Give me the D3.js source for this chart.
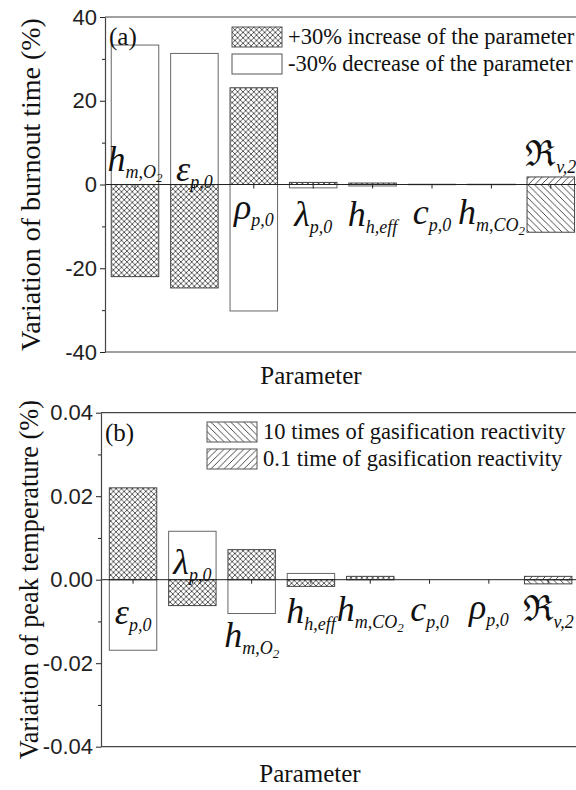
<!DOCTYPE html>
<html>
<head>
<meta charset="utf-8">
<script src="https://cdn.jsdelivr.net/npm/d3@7"></script>
<style>
  body { margin: 0; background: #fff; }
  svg { display: block; }
</style>
</head>
<body>
<svg id="chart" width="576" height="790"></svg>
<script>
// ---- Panel (a): variation of burnout time (%) ----
const burnoutParams   = ["hmO2", "epsP0", "rhoP0", "lambdaP0", "hHeff", "cP0", "hmCO2", "Rv2"];
const burnoutIncrease = [-22.0, -24.7, 23.1, 0.5, 0.35, 0.05, 0.05, 0];     // +30% of parameter
const burnoutDecrease = [33.3, 31.3, -30.2, -0.8, -0.35, -0.05, -0.05, 0];  // -30% of parameter
const burnoutReact10  = [0, 0, 0, 0, 0, 0, 0, -11.4];                       // 10x gasification reactivity
const burnoutReact01  = [0, 0, 0, 0, 0, 0, 0, 1.8];                         // 0.1x gasification reactivity
const burnoutTicks    = [-40, -20, 0, 20, 40];
const burnoutMinor    = [-30, -10, 10, 30];

// ---- Panel (b): variation of peak temperature (%) ----
const peakParams   = ["epsP0", "lambdaP0", "hmO2", "hHeff", "hmCO2", "cP0", "rhoP0", "Rv2"];
const peakIncrease = [0.0220, -0.0062, 0.0072, -0.0016, 0.0008, 0, 0, 0];
const peakDecrease = [-0.0169, 0.0116, -0.0081, 0.0015, 0.0002, 0, 0, 0];
const peakReact10  = [0, 0, 0, 0, 0, 0, 0, -0.0010];
const peakReact01  = [0, 0, 0, 0, 0, 0, 0, 0.0008];
const peakTicks    = [-0.04, -0.02, 0, 0.02, 0.04];
const peakMinor    = [-0.03, -0.01, 0.01, 0.03];

// Symbol of each parameter: [text, level] with level 1 = main, 2 = subscript, 3 = sub-subscript
const symbols = {
  hmO2:     [["h", 1], ["m,O", 2], ["2", 3]],
  epsP0:    [["\u03B5", 1], ["p,0", 2]],
  rhoP0:    [["\u03C1", 1], ["p,0", 2]],
  lambdaP0: [["\u03BB", 1], ["p,0", 2]],
  hHeff:    [["h", 1], ["h,eff", 2]],
  cP0:      [["c", 1], ["p,0", 2]],
  hmCO2:    [["h", 1], ["m,CO", 2], ["2", 3]],
  Rv2:      [["\u211C", 1], ["v,2", 2]]
};

const W = 576, H = 790;
const serif = "Liberation Serif, Times New Roman, serif";
const sans = "Liberation Sans, Arial, sans-serif";
const ink = "#222";

const svg = d3.select("#chart");
svg.append("rect").attr("width", W).attr("height", H).attr("fill", "#fff");

// hatch patterns
const defs = svg.append("defs");
function hatch(id, size, d, w) {
  const p = defs.append("pattern").attr("id", id)
    .attr("patternUnits", "userSpaceOnUse").attr("width", size).attr("height", size);
  p.append("rect").attr("width", size).attr("height", size).attr("fill", "#fff");
  p.append("path").attr("d", d).attr("stroke", "#333").attr("stroke-width", w).attr("fill", "none");
}
hatch("cross", 5.4, "M0,0L5.4,5.4M5.4,0L0,5.4", 0.8);
hatch("back", 6.6, "M0,0L6.6,6.6M-1,5.6L1,7.6M5.6,-1L7.6,1", 0.9);
hatch("fwd", 6.6, "M0,6.6L6.6,0M-1,1L1,-1M5.6,7.6L7.6,5.6", 0.9);

const fills = { inc: "url(#cross)", dec: "#fff", r10: "url(#back)", r01: "url(#fwd)" };

function drawLabel(g, x, y, parts, sz) {
  const t = g.append("text").attr("x", x).attr("y", y)
    .attr("text-anchor", "middle").style("font-family", serif).attr("fill", "#111");
  const shift = { 1: 0, 2: sz.d2, 3: sz.d3 };
  const size = { 1: sz.m, 2: sz.s, 3: sz.ss };
  let prev = 0;
  parts.forEach(([txt, lvl]) => {
    const sp = t.append("tspan").attr("font-size", size[lvl]).attr("dy", shift[lvl] - prev).text(txt);
    if (txt !== "\u211C") sp.attr("font-style", "italic");
    prev = shift[lvl];
  });
}

function panel(cfg) {
  const g = svg.append("g");
  const x = d3.scaleBand().domain(cfg.params).range(cfg.band).paddingInner(0.2).paddingOuter(0.1);
  const y = d3.scaleLinear().domain([cfg.ticks[0], cfg.ticks[cfg.ticks.length - 1]]).range(cfg.yRange);

  // bars: each series drawn from zero to its value
  const series = [
    { vals: cfg.dec, fill: fills.dec, stroke: "#666" },
    { vals: cfg.inc, fill: fills.inc, stroke: "#444" },
    { vals: cfg.r10, fill: fills.r10, stroke: "#444" },
    { vals: cfg.r01, fill: fills.r01, stroke: "#444" }
  ];
  series.forEach(s => {
    g.append("g").selectAll("rect")
      .data(cfg.params.map((p, i) => ({ p, v: s.vals[i] })).filter(d => d.v !== 0))
      .join("rect")
      .attr("x", d => x(d.p))
      .attr("width", x.bandwidth())
      .attr("y", d => y(Math.max(0, d.v)))
      .attr("height", d => Math.abs(y(d.v) - y(0)))
      .attr("fill", s.fill)
      .attr("stroke", s.stroke)
      .attr("stroke-width", 1);
  });

  // frame
  const xr = cfg.axisX, top = y(cfg.ticks[cfg.ticks.length - 1]), bot = y(cfg.ticks[0]);
  g.append("path").attr("d", `M${xr},${top}H${W + 10}M${xr},${bot}H${W + 10}M${cfg.band[1]},${top}V${bot}`)
    .attr("stroke", "#444").attr("stroke-width", 1.2).attr("fill", "none");

  // zero line with category ticks
  const xa = g.append("g").attr("transform", `translate(0,${y(0)})`)
    .call(d3.axisBottom(x).tickSize(4).tickSizeOuter(0).tickFormat(""));
  xa.select(".domain").attr("d", `M${xr},0H${W + 10}`).attr("stroke", ink);
  xa.selectAll("line").attr("stroke", ink);

  // y axis
  const fmt = v => cfg.fmt(v).replace("\u2212", "-");
  const ya = g.append("g").attr("transform", `translate(${xr},0)`)
    .call(d3.axisLeft(y).tickValues(cfg.ticks).tickSize(5).tickSizeOuter(0).tickPadding(3).tickFormat(fmt));
  ya.attr("font-family", null).attr("font-size", null);
  ya.select(".domain").attr("stroke", "#444").attr("stroke-width", 1.2);
  ya.selectAll("line").attr("stroke", ink);
  ya.selectAll("text").style("font-family", sans).style("font-size", "22px").attr("fill", ink);
  const ym = g.append("g").attr("transform", `translate(${xr},0)`)
    .call(d3.axisLeft(y).tickValues(cfg.minor).tickSize(3).tickFormat(""));
  ym.select(".domain").remove();
  ym.selectAll("line").attr("stroke", ink);

  // y title
  g.append("text")
    .attr("transform", `translate(${cfg.titleX},${(top + bot) / 2}) rotate(-90)`)
    .attr("text-anchor", "middle").style("font-family", serif)
    .attr("font-size", cfg.titleSize).attr("fill", "#111").text(cfg.title);

  // x title
  g.append("text").attr("x", cfg.xTitleX).attr("y", cfg.xTitleY)
    .attr("text-anchor", "middle").style("font-family", serif)
    .attr("font-size", 25).attr("fill", "#111").text("Parameter");

  // panel tag
  g.append("text").attr("x", xr + 4).attr("y", cfg.tagY)
    .style("font-family", serif).attr("font-size", 25).attr("fill", "#111").text(cfg.tag);

  // legend
  cfg.legend.forEach((it, i) => {
    const ly = cfg.legendY + i * 27;
    g.append("rect").attr("x", cfg.legendX).attr("y", ly).attr("width", 50).attr("height", 20)
      .attr("fill", it.fill).attr("stroke", "#555").attr("stroke-width", 1);
    g.append("text").attr("x", cfg.legendX + 56).attr("y", ly + 17)
      .style("font-family", serif).attr("font-size", 22.5).attr("fill", "#111").text(it.text);
  });

  // parameter symbols
  cfg.params.forEach((p, i) => {
    drawLabel(g, x(p) + x.bandwidth() / 2, y(0) + cfg.labelOffsets[i], symbols[p],
      { m: 36, s: 18, ss: 13, d2: 7, d3: 11 });
  });
}

panel({
  params: burnoutParams, inc: burnoutIncrease, dec: burnoutDecrease, r10: burnoutReact10, r01: burnoutReact01,
  ticks: burnoutTicks, minor: burnoutMinor, fmt: d3.format("d"),
  band: [105.3, 580.5], yRange: [352, 17], axisX: 105,
  title: "Variation of burnout time (%)", titleX: 40, titleSize: 28,
  xTitleX: 311, xTitleY: 384, tag: "(a)", tagY: 45,
  legendX: 232, legendY: 27,
  legend: [{ fill: fills.inc, text: "+30% increase of the parameter" },
           { fill: fills.dec, text: "-30% decrease of the parameter" }],
  labelOffsets: [-14, -4, 34, 41, 41, 39, 39, -19]
});

panel({
  params: peakParams, inc: peakIncrease, dec: peakDecrease, r10: peakReact10, r01: peakReact01,
  ticks: peakTicks, minor: peakMinor, fmt: d3.format(".2f"),
  band: [103.4, 577.8], yRange: [746.7, 412.7], axisX: 101,
  title: "Variation of peak temperature (%)", titleX: 38, titleSize: 26.3,
  xTitleX: 310, xTitleY: 782, tag: "(b)", tagY: 441,
  legendX: 207, legendY: 422,
  legend: [{ fill: fills.r10, text: "10 times of gasification reactivity" },
           { fill: fills.r01, text: "0.1 time of gasification reactivity" }],
  labelOffsets: [44, -6, 67, 43, 41, 41, 39, 41]
});
</script>
</body>
</html>
